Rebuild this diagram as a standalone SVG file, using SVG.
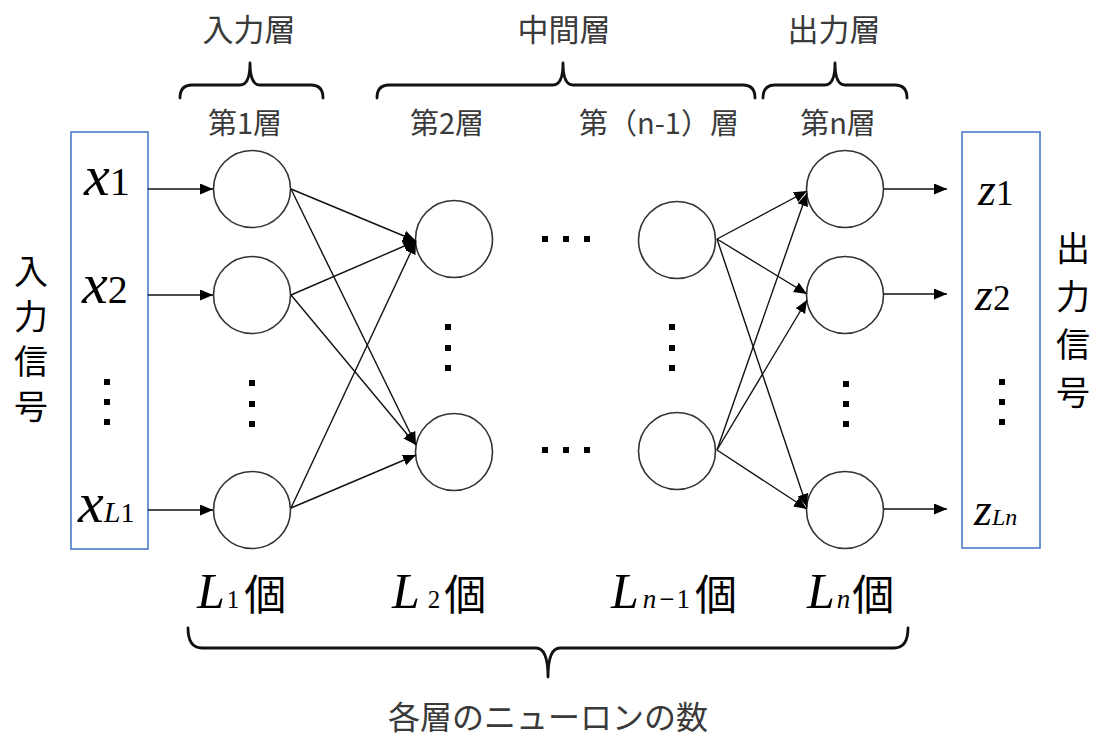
<svg xmlns="http://www.w3.org/2000/svg" width="1098" height="736" viewBox="0 0 1098 736">
<style>
.node{fill:#fff;stroke:#333;stroke-width:1.6}
.box{fill:none;stroke:#4a7cc9;stroke-width:1.6}
.conn{stroke:#111;stroke-width:1.4;fill:none;marker-end:url(#ah)}
.brace{fill:none;stroke:#111;stroke-width:2.8;stroke-linejoin:round;stroke-linecap:round}
.jp{font-family:"Noto Sans CJK JP","Noto Sans",sans-serif}
.lbl{font-size:31px;fill:#3a3a3a}
.sub{font-size:29px;fill:#3a3a3a}
.side{font-size:34px;fill:#000;writing-mode:vertical-rl}
.math{font-family:"Liberation Serif","Times New Roman",serif;fill:#000}
.it{font-style:italic}
.dot{fill:#000}
</style>
<defs>
<marker id="ah" markerUnits="userSpaceOnUse" markerWidth="14" markerHeight="12" refX="13" refY="5.5" orient="auto">
<path d="M0,0 L13,5.5 L0,11 Z" fill="#000"/>
</marker>
</defs>

<g id="braces">
<path class="brace" d="M180,98 Q180,85 192,85 L240,85 Q250,85 250,63 Q250,85 260,85 L311,85 Q323,85 323,98"/>
<path class="brace" d="M377,98 Q377,85 389,85 L553,85 Q563,85 563,63 Q563,85 573,85 L743,85 Q755,85 755,98"/>
<path class="brace" d="M763,98 Q763,85 775,85 L825,85 Q835,85 835,63 Q835,85 845,85 L895,85 Q907,85 907,98"/>
<path class="brace" d="M188,628 Q188,648 202,648 L536,648 Q548,648 548,677 Q548,648 560,648 L894,648 Q908,648 908,628"/>
</g>

<g id="top-labels" class="jp">
<text class="lbl" x="249" y="41" text-anchor="middle">入力層</text>
<text class="lbl" x="564" y="41" text-anchor="middle">中間層</text>
<text class="lbl" x="834" y="41" text-anchor="middle">出力層</text>
<text class="sub" x="245" y="134" text-anchor="middle">第1層</text>
<text class="sub" x="447" y="134" text-anchor="middle">第2層</text>
<text class="sub" x="659" y="134" text-anchor="middle">第（n-1）層</text>
<text class="sub" x="838" y="134" text-anchor="middle">第n層</text>
</g>

<g id="input-signal">
<rect class="box" x="71" y="132" width="77" height="417"/>
<text class="math" x="84" y="195"><tspan class="it" font-size="58">x</tspan><tspan font-size="40">1</tspan></text>
<text class="math" x="82" y="303"><tspan class="it" font-size="58">x</tspan><tspan font-size="40">2</tspan></text>
<text class="math" x="78" y="522"><tspan class="it" font-size="58">x</tspan><tspan class="it" font-size="30">L</tspan><tspan font-size="28">1</tspan></text>
<rect class="dot" x="104" y="379" width="6" height="6"/>
<rect class="dot" x="104" y="399" width="6" height="6"/>
<rect class="dot" x="104" y="419" width="6" height="6"/>
<text class="jp side" x="31" y="254" letter-spacing="11">入力信号</text>
</g>

<g id="output-signal">
<rect class="box" x="962" y="132" width="78" height="416"/>
<text class="math" x="978" y="205"><tspan class="it" font-size="46">z</tspan><tspan font-size="35">1</tspan></text>
<text class="math" x="975" y="310"><tspan class="it" font-size="46">z</tspan><tspan font-size="35">2</tspan></text>
<text class="math" x="974" y="525"><tspan class="it" font-size="46">z</tspan><tspan class="it" font-size="24">Ln</tspan></text>
<rect class="dot" x="999" y="379" width="6" height="6"/>
<rect class="dot" x="999" y="399" width="6" height="6"/>
<rect class="dot" x="999" y="419" width="6" height="6"/>
<text class="jp side" x="1073" y="231" letter-spacing="14">出力信号</text>
</g>

<g id="layer1">
<circle class="node" cx="252" cy="189" r="38.5"/>
<circle class="node" cx="252" cy="295" r="38.5"/>
<circle class="node" cx="252" cy="510" r="38.5"/>
<rect class="dot" x="249" y="380" width="6" height="6"/>
<rect class="dot" x="249" y="401" width="6" height="6"/>
<rect class="dot" x="249" y="421" width="6" height="6"/>
</g>

<g id="layer2">
<circle class="node" cx="454" cy="239" r="38.5"/>
<circle class="node" cx="454" cy="452" r="38.5"/>
<rect class="dot" x="445" y="324" width="6" height="6"/>
<rect class="dot" x="445" y="345" width="6" height="6"/>
<rect class="dot" x="445" y="365" width="6" height="6"/>
</g>

<g id="ellipsis">
<rect class="dot" x="542" y="236" width="6" height="6"/>
<rect class="dot" x="563" y="236" width="6" height="6"/>
<rect class="dot" x="584" y="236" width="6" height="6"/>
<rect class="dot" x="542" y="447" width="6" height="6"/>
<rect class="dot" x="563" y="447" width="6" height="6"/>
<rect class="dot" x="584" y="447" width="6" height="6"/>
</g>

<g id="layer-n-1">
<circle class="node" cx="677" cy="240" r="38.5"/>
<circle class="node" cx="677" cy="451" r="38.5"/>
<rect class="dot" x="669" y="324" width="6" height="6"/>
<rect class="dot" x="669" y="345" width="6" height="6"/>
<rect class="dot" x="669" y="365" width="6" height="6"/>
</g>

<g id="layer-n">
<circle class="node" cx="845" cy="189" r="38.5"/>
<circle class="node" cx="845" cy="295" r="38.5"/>
<circle class="node" cx="845" cy="510" r="38.5"/>
<rect class="dot" x="843" y="381" width="6" height="6"/>
<rect class="dot" x="843" y="401" width="6" height="6"/>
<rect class="dot" x="843" y="421" width="6" height="6"/>
</g>

<g id="connectors">
<line class="conn" x1="148" y1="189" x2="213" y2="189"/>
<line class="conn" x1="148" y1="295" x2="213" y2="295"/>
<line class="conn" x1="148" y1="510" x2="213" y2="510"/>
<line class="conn" x1="291" y1="189" x2="416" y2="241"/>
<line class="conn" x1="291" y1="189" x2="416" y2="445"/>
<line class="conn" x1="291" y1="295" x2="416" y2="241"/>
<line class="conn" x1="291" y1="295" x2="416" y2="445"/>
<line class="conn" x1="291" y1="508" x2="416" y2="241"/>
<line class="conn" x1="291" y1="508" x2="416" y2="455"/>
<line class="conn" x1="717" y1="239" x2="807" y2="191"/>
<line class="conn" x1="717" y1="239" x2="807" y2="294"/>
<line class="conn" x1="717" y1="239" x2="807" y2="507"/>
<line class="conn" x1="717" y1="450" x2="807" y2="193"/>
<line class="conn" x1="717" y1="450" x2="807" y2="300"/>
<line class="conn" x1="717" y1="450" x2="807" y2="509"/>
<line class="conn" x1="884" y1="189" x2="947" y2="189"/>
<line class="conn" x1="884" y1="294" x2="947" y2="294"/>
<line class="conn" x1="884" y1="509" x2="947" y2="509"/>
</g>

<g id="counts">
<text class="math" x="197" y="608"><tspan class="it" font-size="50">L</tspan><tspan font-size="25" dx="2">1</tspan><tspan class="jp" font-size="42" dx="5" dy="2">個</tspan></text>
<text class="math" x="392" y="608"><tspan class="it" font-size="50">L</tspan><tspan font-size="25" dx="8">2</tspan><tspan class="jp" font-size="42" dx="4" dy="2">個</tspan></text>
<text class="math" x="611" y="608"><tspan class="it" font-size="50">L</tspan><tspan class="it" font-size="27" dx="4">n</tspan><tspan font-size="27" dx="3">−</tspan><tspan font-size="27" dx="2">1</tspan><tspan class="jp" font-size="42" dx="5" dy="2">個</tspan></text>
<text class="math" x="807" y="608"><tspan class="it" font-size="50">L</tspan><tspan class="it" font-size="27" dx="2">n</tspan><tspan class="jp" font-size="42" dx="2" dy="2">個</tspan></text>
<text class="jp" x="548" y="729" font-size="32" fill="#3a3a3a" text-anchor="middle">各層のニューロンの数</text>
</g>
</svg>
